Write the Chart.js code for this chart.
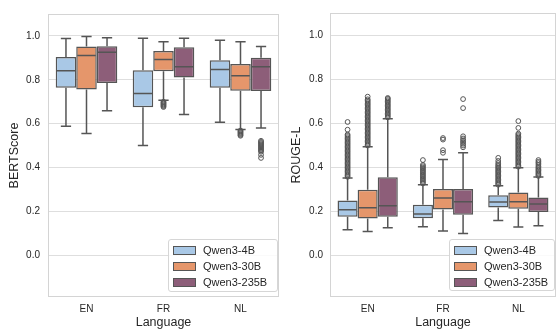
<!DOCTYPE html>
<html>
<head>
<meta charset="utf-8">
<script src="https://cdn.jsdelivr.net/npm/chart.js@4.4.1/dist/chart.umd.min.js"></script>
<style>
  body { margin: 0; background: #fff; width: 557px; height: 331px; overflow: hidden; position: relative; font-family: "Liberation Sans", Arial, sans-serif; }
  canvas { position: absolute; top: 0; }
  .legend { position: absolute; background: rgba(255,255,255,0.85); border: 1px solid #d6d6d6; border-radius: 3px; box-sizing: border-box; }
  .row { position: absolute; left: 0; height: 14px; font-size: 11px; color: #262626; line-height: 14px; }
  .sw { position: absolute; left: 4px; top: 3px; width: 21px; height: 7px; border: 1px solid #555; }
  .lbl { position: absolute; left: 34px; top: 0; white-space: nowrap; }
</style>
</head>
<body>
<canvas id="bertChart" width="280" height="331" style="left:0"></canvas>
<canvas id="rougeChart" width="277" height="331" style="left:280px"></canvas>
<div id="legendBert" class="legend" style="left:168px; top:239px; width:110px; height:53px;"></div>
<div id="legendRouge" class="legend" style="left:449px; top:239px; width:106px; height:52px;"></div>
<script>
// categories and series
const languages = ['EN', 'FR', 'NL'];
const models = ['Qwen3-4B', 'Qwen3-30B', 'Qwen3-235B'];
const modelColors = ['#a9c8e6', '#e5966b', '#8d5e79'];
const yTicks = [0.0, 0.2, 0.4, 0.6, 0.8, 1.0];

// BERTScore box stats, one row per model, one value per language (EN, FR, NL)
const bertLow  = [[0.588, 0.501, 0.606], [0.555, 0.707, 0.573], [0.659, 0.642, 0.580]];
const bertQ1   = [[0.764, 0.675, 0.764], [0.756, 0.839, 0.750], [0.786, 0.811, 0.749]];
const bertMed  = [[0.841, 0.738, 0.847], [0.911, 0.893, 0.818], [0.926, 0.860, 0.860]];
const bertQ3   = [[0.904, 0.844, 0.889], [0.952, 0.931, 0.872], [0.953, 0.949, 0.901]];
const bertHigh = [[0.988, 0.989, 0.980], [0.997, 0.974, 0.974], [0.992, 0.989, 0.952]];
const bertOut = [
    [[], [], []],
    [[], [0.700, 0.696, 0.692, 0.688, 0.684, 0.680, 0.676], [0.569, 0.565, 0.561, 0.557, 0.553, 0.549, 0.545]],
    [[], [], [0.522, 0.517, 0.512, 0.507, 0.502, 0.497, 0.492, 0.487, 0.482, 0.477, 0.472, 0.458, 0.444]]
];

// ROUGE-L box stats
const rougeLow  = [[0.116, 0.129, 0.158], [0.108, 0.110, 0.128], [0.125, 0.099, 0.134]];
const rougeQ1   = [[0.175, 0.168, 0.216], [0.166, 0.208, 0.211], [0.174, 0.184, 0.196]];
const rougeMed  = [[0.206, 0.187, 0.241], [0.215, 0.260, 0.243], [0.224, 0.243, 0.232]];
const rougeQ3   = [[0.248, 0.229, 0.272], [0.297, 0.300, 0.285], [0.354, 0.300, 0.262]];
const rougeHigh = [[0.350, 0.320, 0.315], [0.493, 0.435, 0.397], [0.620, 0.465, 0.355]];
const rougeOut = [
    [
        [0.356, 0.362, 0.368, 0.374, 0.380, 0.386, 0.392, 0.398, 0.404, 0.410, 0.416, 0.422, 0.428, 0.434, 0.440, 0.446, 0.452,
         0.458, 0.464, 0.470, 0.476, 0.482, 0.488, 0.494, 0.500, 0.506, 0.512, 0.518, 0.524, 0.530, 0.536, 0.542, 0.548, 0.570, 0.605],
        [0.326, 0.332, 0.338, 0.344, 0.350, 0.356, 0.362, 0.368, 0.374, 0.380, 0.386, 0.392, 0.398, 0.404, 0.410, 0.432],
        [0.320, 0.326, 0.332, 0.338, 0.344, 0.350, 0.356, 0.362, 0.368, 0.374, 0.380, 0.386, 0.392, 0.398, 0.404, 0.410, 0.418, 0.428, 0.442]
    ],
    [
        [0.498, 0.504, 0.510, 0.516, 0.522, 0.528, 0.534, 0.540, 0.546, 0.552, 0.558, 0.564, 0.570, 0.576, 0.582, 0.588, 0.594,
         0.600, 0.606, 0.612, 0.618, 0.624, 0.630, 0.636, 0.642, 0.648, 0.654, 0.660, 0.666, 0.672, 0.678, 0.684, 0.690, 0.696, 0.702, 0.708, 0.720],
        [0.465, 0.477, 0.525, 0.532],
        [0.402, 0.408, 0.414, 0.420, 0.426, 0.432, 0.438, 0.444, 0.450, 0.456, 0.462, 0.468, 0.474, 0.480, 0.486, 0.492, 0.498,
         0.504, 0.510, 0.516, 0.522, 0.528, 0.534, 0.540, 0.546, 0.552, 0.578, 0.609]
    ],
    [
        [0.626, 0.632, 0.638, 0.644, 0.650, 0.656, 0.662, 0.668, 0.674, 0.680, 0.686, 0.692, 0.698, 0.704, 0.710, 0.714],
        [0.490, 0.498, 0.506, 0.514, 0.522, 0.530, 0.540, 0.668, 0.709],
        [0.360, 0.366, 0.372, 0.378, 0.384, 0.390, 0.396, 0.402, 0.410, 0.418, 0.424, 0.432]
    ]
];

const lineColor = '#555555';
const textColor = '#262626';
const fontFamily = '"Liberation Sans", Arial, sans-serif';

// draws frame, medians, whiskers, caps and fliers on top of the floating bars
const boxPlugin = {
    id: 'boxPlugin',
    beforeDatasetsDraw(chart) {
        const { ctx, chartArea } = chart;
        ctx.save();
        ctx.strokeStyle = '#d4d4d4';
        ctx.lineWidth = 1;
        ctx.strokeRect(chartArea.left + 0.5, chartArea.top + 0.5, chartArea.right - chartArea.left - 1, chartArea.bottom - chartArea.top - 1);
        ctx.restore();
    },
    afterDatasetsDraw(chart) {
        const { ctx } = chart;
        const y = chart.scales.y;
        const st = chart.options.plugins.boxPlugin;
        ctx.save();
        ctx.strokeStyle = lineColor;
        ctx.lineWidth = 1.5;
        chart.data.datasets.forEach((ds, i) => {
            const meta = chart.getDatasetMeta(i);
            meta.data.forEach((bar, j) => {
                const x = bar.x;
                const w = bar.width;
                const yLow = y.getPixelForValue(st.low[i][j]);
                const yHigh = y.getPixelForValue(st.high[i][j]);
                const yQ1 = y.getPixelForValue(st.q1[i][j]);
                const yQ3 = y.getPixelForValue(st.q3[i][j]);
                const yMed = y.getPixelForValue(st.med[i][j]);
                ctx.beginPath();
                // whiskers
                ctx.moveTo(x, yQ3); ctx.lineTo(x, yHigh);
                ctx.moveTo(x, yQ1); ctx.lineTo(x, yLow);
                // caps
                ctx.moveTo(x - w / 4, yHigh); ctx.lineTo(x + w / 4, yHigh);
                ctx.moveTo(x - w / 4, yLow); ctx.lineTo(x + w / 4, yLow);
                // median
                ctx.moveTo(x - w / 2 + 1, yMed); ctx.lineTo(x + w / 2 - 1, yMed);
                ctx.stroke();
                // outliers
                ctx.lineWidth = 1;
                st.out[i][j].forEach(v => {
                    ctx.beginPath();
                    ctx.arc(x, y.getPixelForValue(v), 2.4, 0, Math.PI * 2);
                    ctx.stroke();
                });
                ctx.lineWidth = 1.5;
            });
        });
        ctx.restore();
    }
};

function makeChart(canvasId, title, q1, q3, med, low, high, out, axisWidth, titlePad, tickPad) {
    const ctx = document.getElementById(canvasId).getContext('2d');
    return new Chart(ctx, {
        type: 'bar',
        data: {
            labels: languages,
            datasets: models.map((m, i) => ({
                label: m,
                data: q1[i].map((v, j) => [v, q3[i][j]]),
                backgroundColor: modelColors[i],
                borderColor: lineColor,
                borderWidth: 1.5,
                borderSkipped: false,
                categoryPercentage: 0.8,
                barPercentage: 1.0
            }))
        },
        options: {
            responsive: false,
            devicePixelRatio: 1,
            animation: false,
            layout: { padding: { top: 9, right: 1, left: 0, bottom: 0 } },
            plugins: {
                legend: { display: false },
                tooltip: { enabled: false },
                boxPlugin: { q1: q1, q3: q3, med: med, low: low, high: high, out: out }
            },
            scales: {
                x: {
                    grid: { display: false, drawTicks: false },
                    border: { display: false },
                    ticks: { color: textColor, font: { family: fontFamily, size: 10 }, padding: 6 },
                    title: { display: true, text: 'Language', color: textColor, font: { family: fontFamily, size: 12.5 }, padding: { top: 0, bottom: 0.5 } },
                    afterFit: scale => { scale.height = 34; }
                },
                y: {
                    min: -0.19,
                    max: 1.1,
                    afterBuildTicks: scale => { scale.ticks = yTicks.map(v => ({ value: v })); },
                    grid: { color: '#dedede', lineWidth: 1, drawTicks: false },
                    border: { display: false },
                    ticks: { color: textColor, font: { family: fontFamily, size: 10 }, padding: tickPad, callback: v => Number(v).toFixed(1) },
                    title: { display: true, text: title, color: textColor, font: { family: fontFamily, size: 12.5 }, padding: { top: titlePad, bottom: 0 } },
                    afterFit: scale => { scale.width = axisWidth; }
                }
            }
        },
        plugins: [boxPlugin]
    });
}

makeChart('bertChart', 'BERTScore', bertQ1, bertQ3, bertMed, bertLow, bertHigh, bertOut, 48, 7.5, 8);
makeChart('rougeChart', 'ROUGE-L', rougeQ1, rougeQ3, rougeMed, rougeLow, rougeHigh, rougeOut, 50, 9.5, 7);

// legends inside the lower right corner of each panel
function buildLegend(id) {
    const box = document.getElementById(id);
    models.forEach((m, i) => {
        const row = document.createElement('div');
        row.className = 'row';
        row.style.top = (3 + i * 16) + 'px';
        row.style.width = '100%';
        const sw = document.createElement('div');
        sw.className = 'sw';
        sw.style.background = modelColors[i];
        const lbl = document.createElement('div');
        lbl.className = 'lbl';
        lbl.innerText = m;
        row.appendChild(sw);
        row.appendChild(lbl);
        box.appendChild(row);
    });
}
buildLegend('legendBert');
buildLegend('legendRouge');
</script>
</body>
</html>
